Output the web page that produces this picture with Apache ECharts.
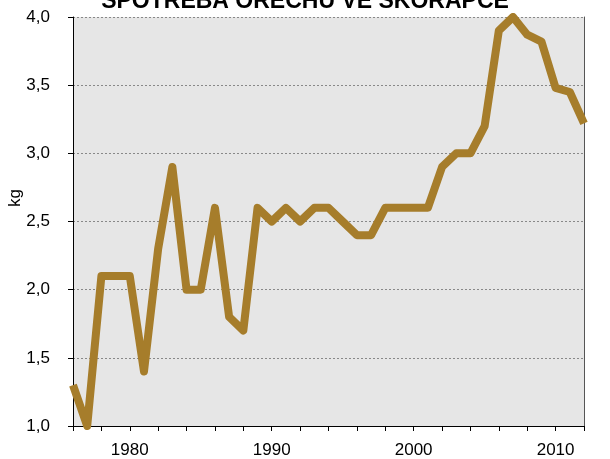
<!DOCTYPE html>
<html>
<head>
<meta charset="utf-8">
<script src="https://cdn.jsdelivr.net/npm/echarts@6/dist/echarts.min.js"></script>
<style>
html,body{margin:0;padding:0;background:#fff;}
#chart{width:610px;height:459px;}
</style>
</head>
<body>
<div id="chart"></div>
<script>
// roky a spotreba (kg)
var years = [];
for (var y = 1976; y <= 2012; y++) years.push(String(y));
var spotreba = [1.3, 1.0, 2.1, 2.1, 2.1, 1.4, 2.3, 2.9, 2.0, 2.0,
                2.6, 1.8, 1.7, 2.6, 2.5, 2.6, 2.5, 2.6, 2.6, 2.5,
                2.4, 2.4, 2.6, 2.6, 2.6, 2.6, 2.9, 3.0, 3.0, 3.2,
                3.9, 4.0, 3.87, 3.82, 3.48, 3.45, 3.22];
var labelYears = [1980, 1990, 2000, 2010];

var myChart = echarts.init(document.getElementById('chart'));
var fnt = 'Liberation Sans, Arial, sans-serif';
var option = {
    animation: false,
    title: {
        text: 'SPOTŘEBA OŘECHŮ VE SKOŘÁPCE',
        left: 'center',
        top: -15,
        textStyle: {color: '#000', fontSize: 23, fontWeight: 'bold', fontFamily: fnt}
    },
    grid: {
        left: 73, right: 26, top: 17, bottom: 32,
        show: true, backgroundColor: '#e6e6e6', borderWidth: 0
    },
    xAxis: {
        type: 'category',
        data: years,
        boundaryGap: false,
        axisLine: {lineStyle: {color: '#000', width: 1}},
        axisTick: {show: true, interval: 1, length: 5, lineStyle: {color: '#000'}},
        axisLabel: {
            interval: function (i, v) { return labelYears.indexOf(+v) >= 0; },
            color: '#000', fontSize: 17, fontFamily: fnt, margin: 16
        },
        splitLine: {show: false}
    },
    yAxis: [{
        type: 'value',
        min: 1, max: 4, interval: 0.5,
        axisLine: {show: true, lineStyle: {color: '#000', width: 1}},
        axisTick: {show: true, length: 5, lineStyle: {color: '#000'}},
        axisLabel: {
            color: '#000', fontSize: 17, fontFamily: fnt, margin: 23,
            formatter: function (v) { return v.toFixed(1).replace('.', ','); }
        },
        splitLine: {show: true, lineStyle: {color: '#888', type: [2, 2], width: 1}}
    }, {
        type: 'value',
        position: 'right',
        min: 1, max: 4, interval: 0.5,
        axisLine: {show: true, lineStyle: {color: '#555', width: 1}},
        axisTick: {show: false},
        axisLabel: {show: false},
        splitLine: {show: false}
    }],
    graphic: [{
        type: 'text',
        x: 15, y: 198,
        rotation: Math.PI / 2,
        style: {text: 'kg', fill: '#000', font: '17px ' + fnt, textAlign: 'center', textVerticalAlign: 'middle'}
    }],
    series: [{
        type: 'line',
        data: spotreba,
        symbol: 'none',
        clip: true,
        lineStyle: {color: '#a67d2b', width: 8, join: 'round'}
    }]
};
myChart.setOption(option);
</script>
</body>
</html>
